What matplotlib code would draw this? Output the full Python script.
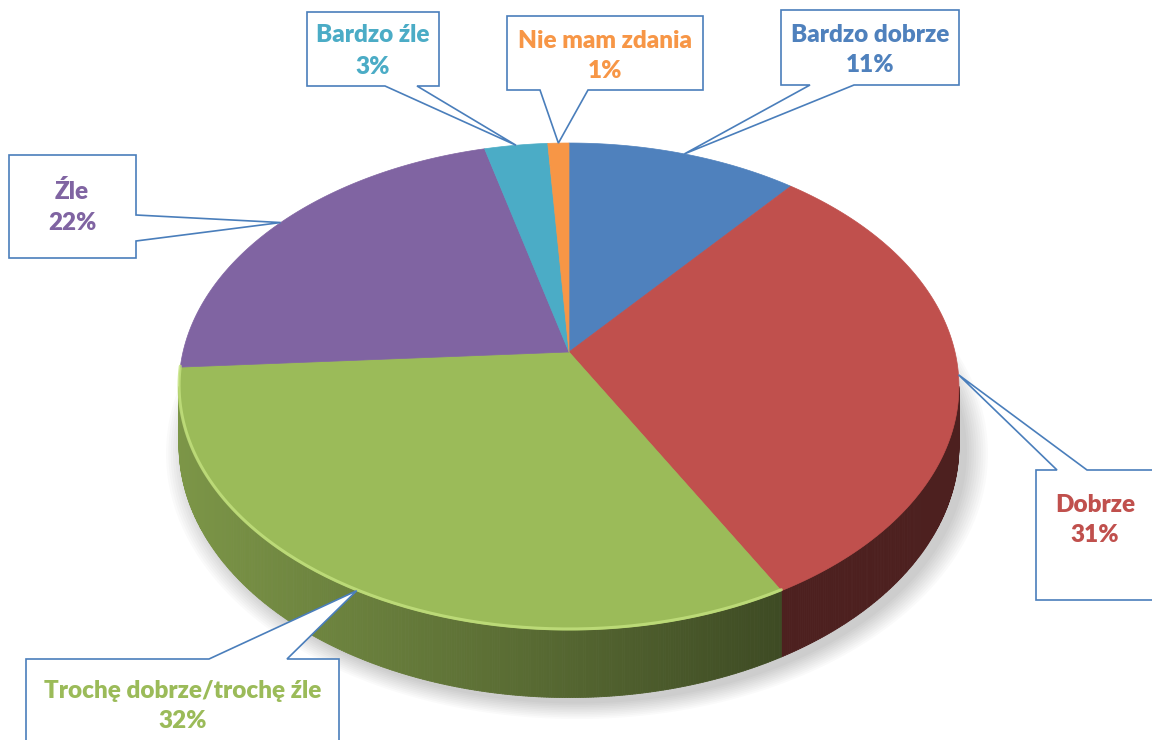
import numpy as np
import matplotlib.pyplot as plt
from matplotlib.patches import Polygon
from matplotlib.collections import PolyCollection

labels = ['Bardzo dobrze', 'Dobrze', 'Trochę dobrze/trochę źle', 'Źle', 'Bardzo źle', 'Nie mam zdania']
values = [11, 31, 32, 22, 3, 1]
colors = ['#4F81BD', '#C0504D', '#9BBB59', '#8064A2', '#4BACC6', '#F79646']

# callout layout in pixels: box (x0, y0, x1, y1), where the pointer leaves the box, text centre
boxes = [(781, 10, 959, 85), (1036, 470, 1180, 600), (26, 659, 339, 780),
         (9, 155, 136, 258), (307, 12, 439, 86), (507, 16, 703, 90)]
bases = [('bottom', 810, 854), ('top', 1057, 1087), ('top', 209, 287),
         ('right', 215, 241), ('bottom', 385, 417), ('bottom', 540, 588)]
text_xy = [(870, 50), (1095, 520), (183, 706), (72, 207), (373, 51), (605, 56)]

# tilted disc seen in perspective (pixels)
cx, cy = 569, 352
sx, sy, k = 386, 238.6, 0.1417
depth = 58


def proj(theta):
    t = np.radians(theta)
    u, v = np.sin(t), np.cos(t)
    w = 1 + k * v
    return cx + sx * u / w, cy - sy * v / w, w


def shade(x):
    return np.interp(x, [180, 560, 780, 960], [0.80, 0.55, 0.40, 0.40])


fig = plt.figure(figsize=(11.52, 7.40), dpi=100)
ax = fig.add_axes([0, 0, 1, 1])
ax.set_xlim(0, 1152)
ax.set_ylim(740, 0)
ax.axis('off')

# soft shadow under the disc
th = np.linspace(0, 360, 361)
bx, by, bw = proj(th)
by = by + depth / bw
for s in range(10):
    f = 1 + s * 0.006
    pts = np.column_stack([cx + 8 + (bx - cx) * f, cy + depth + 6 + (by - cy - depth) * f])
    ax.add_patch(Polygon(pts, closed=True, fc='#000000', ec='none', alpha=0.018, zorder=1))

bounds = np.concatenate([[0], np.cumsum(values)]) / sum(values) * 360
t_edge = np.degrees(np.arccos(-k))

# side wall
quads, qcols = [], []
for i, c in enumerate(colors):
    a0, a1 = max(bounds[i], t_edge), min(bounds[i + 1], 360 - t_edge)
    if a1 <= a0:
        continue
    ts = np.linspace(a0, a1, int((a1 - a0) * 3) + 2)
    x, y, w = proj(ts)
    yb = y + depth / w
    rgb = np.array(plt.matplotlib.colors.to_rgb(c))
    for j in range(len(ts) - 1):
        quads.append([(x[j], y[j]), (x[j + 1], y[j + 1]), (x[j + 1], yb[j + 1]), (x[j], yb[j])])
        f = shade((x[j] + x[j + 1]) / 2)
        qcols.append(tuple(rgb * f))
ax.add_collection(PolyCollection(quads, facecolors=qcols, edgecolors=qcols, linewidths=0.6, zorder=2))

# top of the pie
for i, c in enumerate(colors):
    ts = np.linspace(bounds[i], bounds[i + 1], max(int(bounds[i + 1] - bounds[i]) * 2, 2))
    x, y, _ = proj(ts)
    pts = np.vstack([[cx, cy], np.column_stack([x, y])])
    ax.add_patch(Polygon(pts, closed=True, fc=c, ec=c, lw=0.5, zorder=3))

# light rim on the front edge of the green slice
ts = np.linspace(max(bounds[2], t_edge), bounds[3], 200)
x, y, _ = proj(ts)
ax.plot(x, y - 1, color='#C4E27F', lw=2.2, alpha=0.8, zorder=4, solid_capstyle='round')

# callouts
for i in range(len(labels)):
    x0, y0, x1, y1 = boxes[i]
    side, b1, b2 = bases[i]
    mid = (bounds[i] + bounds[i + 1]) / 2
    tx, ty, _ = proj(mid)
    tip = (tx, ty)
    if side == 'bottom':
        pts = [(x0, y0), (x1, y0), (x1, y1), (b2, y1), tip, (b1, y1), (x0, y1)]
    elif side == 'top':
        pts = [(x0, y0), (b1, y0), tip, (b2, y0), (x1, y0), (x1, y1), (x0, y1)]
    else:
        pts = [(x0, y0), (x1, y0), (x1, b1), tip, (x1, b2), (x1, y1), (x0, y1)]
    ax.add_patch(Polygon(pts, closed=True, fc='white', ec='#4A7EBB', lw=1.2, zorder=5))
    ax.text(text_xy[i][0], text_xy[i][1], '%s\n%d%%' % (labels[i], values[i]),
            ha='center', va='center', color=colors[i], fontsize=17.5, fontweight='heavy',
            family=['Lato', 'DejaVu Sans'], linespacing=1.5, zorder=6)

plt.savefig('out.png', dpi=100)
